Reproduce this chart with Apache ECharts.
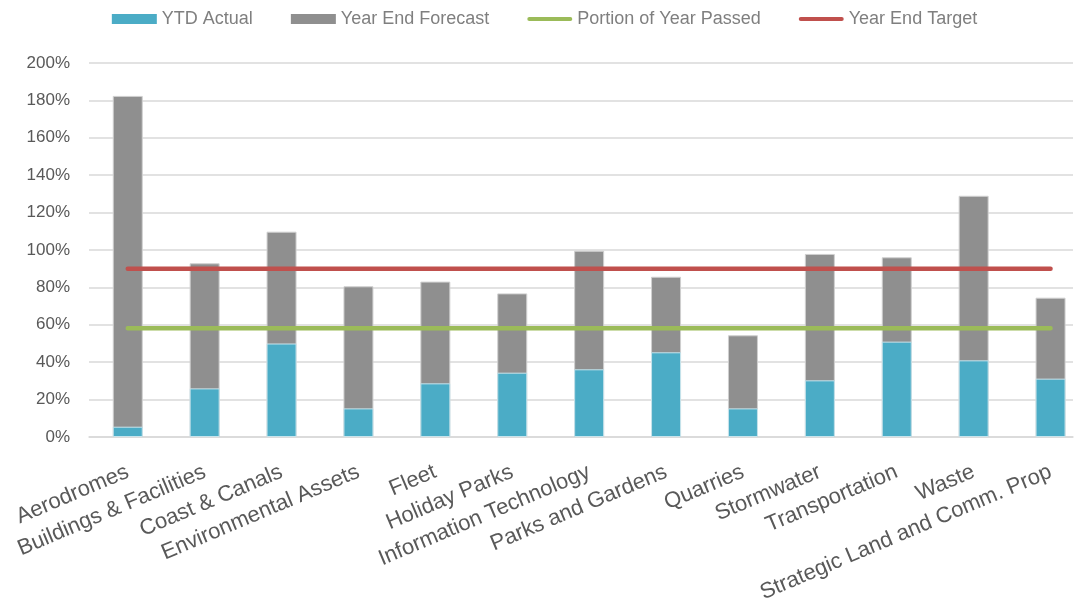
<!DOCTYPE html>
<html>
<head>
<meta charset="utf-8">
<script src="https://cdn.jsdelivr.net/npm/echarts@6/dist/echarts.min.js"></script>
<style>
  html, body { margin: 0; padding: 0; background: #fff; }
  #main { width: 1089px; height: 613px; }
</style>
</head>
<body>
<div id="main"></div>
<script>
var categories = ['Aerodromes', 'Buildings & Facilities', 'Coast & Canals', 'Environmental Assets',
  'Fleet', 'Holiday Parks', 'Information Technology', 'Parks and Gardens', 'Quarries',
  'Stormwater', 'Transportation', 'Waste', 'Strategic Land and Comm. Prop'];
var ytdActual = [5.5, 26, 50, 15.3, 28.7, 34.4, 36.2, 45.3, 15.3, 30.3, 51, 41, 31.2];
var yearEndForecast = [182.4, 92.9, 109.8, 80.6, 83.1, 76.8, 99.6, 85.7, 54.4, 97.9, 96.1, 129, 74.5];
var portionPassed = [58.2, 58.2, 58.2, 58.2, 58.2, 58.2, 58.2, 58.2, 58.2, 58.2, 58.2, 58.2, 58.2];
var yearEndTarget = [90, 90, 90, 90, 90, 90, 90, 90, 90, 90, 90, 90, 90];

var font = 'Liberation Sans, Arial, sans-serif';
var lineIcon = 'path://M2,0 H43 A2,2 0 0 1 43,4 H2 A2,2 0 0 1 2,0 Z';
var myChart = echarts.init(document.getElementById('main'));

// grid 0 carries the gridlines and y labels, grid 1 the bars (Excel-like offset)
var option = {
  animation: false,
  textStyle: { fontFamily: font },
  legend: {
    top: 5,
    left: 'center',
    itemWidth: 45,
    itemHeight: 10,
    itemGap: 38,
    symbolKeepAspect: true,
    itemStyle: { borderWidth: 0 },
    textStyle: { fontSize: 18, color: '#7f7f7f', fontFamily: font },
    data: [
      { name: 'YTD Actual', icon: 'rect' },
      { name: 'Year End Forecast', icon: 'rect' },
      { name: 'Portion of Year Passed', icon: lineIcon },
      { name: 'Year End Target', icon: lineIcon }
    ]
  },
  grid: [
    { left: 89, right: 16, top: 63, bottom: 176 },
    { left: 89.3, width: 1006.2, top: 63, bottom: 176 }
  ],
  xAxis: [
    {
      type: 'category',
      gridIndex: 0,
      data: categories,
      axisLine: { lineStyle: { color: '#d9d9d9', width: 1.5 } },
      axisTick: { show: false },
      axisLabel: { show: false }
    },
    {
      type: 'category',
      gridIndex: 1,
      data: categories,
      axisLine: { show: false },
      axisTick: { show: false },
      axisLabel: {
        interval: 0,
        rotate: 23,
        margin: 34,
        fontSize: 22,
        color: '#595959',
        fontFamily: font
      }
    }
  ],
  yAxis: [
    {
      type: 'value',
      gridIndex: 0,
      min: 0,
      max: 200,
      interval: 20,
      axisLine: { show: false },
      axisTick: { show: false },
      splitLine: { lineStyle: { color: '#d9d9d9', width: 1.5 } },
      axisLabel: {
        formatter: '{value}%',
        fontSize: 17,
        margin: 19,
        color: '#595959',
        fontFamily: font
      }
    },
    {
      type: 'value',
      gridIndex: 1,
      min: 0,
      max: 200,
      interval: 20,
      show: false
    }
  ],
  series: [
    {
      name: 'Year End Forecast',
      type: 'bar',
      xAxisIndex: 1,
      yAxisIndex: 1,
      data: yearEndForecast,
      barWidth: 30,
      barGap: '-100%',
      z: 2,
      itemStyle: { color: '#8f8f8f', borderColor: '#d0d0d0', borderWidth: 1 }
    },
    {
      name: 'YTD Actual',
      type: 'bar',
      xAxisIndex: 1,
      yAxisIndex: 1,
      data: ytdActual,
      barWidth: 30,
      barGap: '-100%',
      z: 3,
      itemStyle: { color: '#4bacc6', borderColor: '#c8e4ec', borderWidth: 1 }
    },
    {
      name: 'Portion of Year Passed',
      type: 'line',
      xAxisIndex: 1,
      yAxisIndex: 1,
      data: portionPassed,
      symbol: 'none',
      z: 4,
      lineStyle: { color: '#9bbb59', width: 4.5, cap: 'round' },
      itemStyle: { color: '#9bbb59' }
    },
    {
      name: 'Year End Target',
      type: 'line',
      xAxisIndex: 1,
      yAxisIndex: 1,
      data: yearEndTarget,
      symbol: 'none',
      z: 4,
      lineStyle: { color: '#c0504d', width: 4.5, cap: 'round' },
      itemStyle: { color: '#c0504d' }
    }
  ]
};
myChart.setOption(option);
</script>
</body>
</html>
